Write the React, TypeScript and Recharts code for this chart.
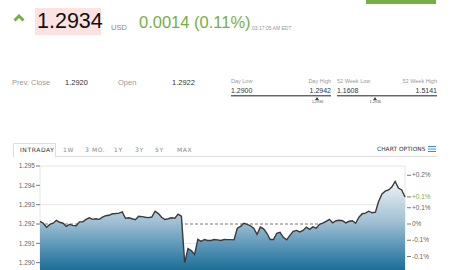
import React from 'react';
import {
  AreaChart,
  Area,
  Line,
  XAxis,
  YAxis,
  CartesianGrid,
  ReferenceLine
} from 'recharts';

// Intraday quotes, one every 5 minutes starting at 18:00
const PRICES = [
  1.29214, 1.29204, 1.29183, 1.29198, 1.29204, 1.29219, 1.29209, 1.29204, 1.29188, 1.29198,
  1.29193, 1.29191, 1.29211, 1.29211, 1.29224, 1.29232, 1.29224, 1.29227, 1.29224, 1.29235,
  1.29243, 1.29245, 1.29253, 1.29254, 1.29256, 1.29263, 1.2923, 1.29232, 1.29227, 1.29222,
  1.2924, 1.29238, 1.29235, 1.29233, 1.29236, 1.29266, 1.29254, 1.29235, 1.29223, 1.29227,
  1.29232, 1.2923, 1.29251, 1.2924, 1.29, 1.29073, 1.29063, 1.29042, 1.2912, 1.2911,
  1.2912, 1.29115, 1.29115, 1.2912, 1.29118, 1.29115, 1.2912, 1.29119, 1.29119, 1.29118,
  1.29178, 1.29188, 1.29204, 1.29198, 1.29191, 1.29178, 1.29146, 1.29184, 1.29175, 1.29152,
  1.2912, 1.2912, 1.29152, 1.29157, 1.29131, 1.29118, 1.29141, 1.29162, 1.29167, 1.29159,
  1.29167, 1.29184, 1.29172, 1.29185, 1.29178, 1.29198, 1.29204, 1.29214, 1.29224, 1.29206,
  1.29217, 1.29219, 1.29217, 1.29206, 1.29214, 1.29217, 1.29204, 1.29235, 1.29253, 1.29256,
  1.29266, 1.29258, 1.29261, 1.29318, 1.29355, 1.2937, 1.29376, 1.29391, 1.2942, 1.29386,
  1.29376, 1.2934
];
const STEP_MINUTES = 5;
const SESSION_MINUTES = 555;
const HOUR_MARKS = [60, 120, 180, 240, 300, 360, 420, 480, 540];
const PRICE_TICKS = [1.29, 1.291, 1.292, 1.293, 1.294, 1.295];
// percent-change ticks; the 0.13% step is taken by the last-price label
const PCT_TICKS = [0.195, 0.065, 0, -0.065, -0.13];

const PREV_CLOSE = 1.292;
const OPEN = 1.2922;
const DAY_LOW = 1.29;
const DAY_HIGH = 1.2942;
const WEEK52_LOW = 1.1608;
const WEEK52_HIGH = 1.5141;
const LAST = 1.2934;
const CHANGE = 0.0014;
const CHANGE_PCT = 0.11;

const GREEN = '#76b043';
const FONT = '"Liberation Sans", Arial, sans-serif';
const TAB_FONT = '"DejaVu Sans", sans-serif';

const chartData = PRICES.map((price, i) => ({ t: i * STEP_MINUTES, price }));

const pctToPrice = (p: number) => PREV_CLOSE * (1 + p / 100);
const rightTicks = [...PCT_TICKS.map(pctToPrice), LAST].sort((a, b) => b - a);

const formatPct = (price: number) => {
  const p = Math.round((price / PREV_CLOSE - 1) * 100 * 10) / 10;
  if (Math.abs(p) < 0.05) return '0%';
  return (p > 0 ? '+' : '-') + Math.abs(p).toFixed(1) + '%';
};

const RightTick = (props: any) => {
  const { x, y, payload } = props;
  const current = Math.abs(payload.value - LAST) < 1e-7;
  return (
    <g>
      <line x1={x - 6} y1={y} x2={x - 2} y2={y} stroke="#777" strokeWidth={1} />
      <text x={x - 1} y={y} dy={2.2} fontSize={6.5} fontFamily={FONT} fill={current ? GREEN : '#666'}>
        {formatPct(payload.value)}
      </text>
    </g>
  );
};

const txt = (
  left: number,
  top: number,
  size: number,
  color: string,
  extra: React.CSSProperties = {}
): React.CSSProperties => ({
  position: 'absolute',
  left,
  top,
  fontSize: size,
  color,
  lineHeight: 1,
  whiteSpace: 'nowrap',
  ...extra
});

function RangeBar({ left, width, lowLabel, highLabel, low, high, marker }: any) {
  const pos = ((marker - low) / (high - low)) * width;
  return (
    <>
      <div style={txt(left, 79, 5.5, '#999')}>{lowLabel}</div>
      <div style={txt(left, 79, 5.5, '#999', { width, textAlign: 'right' })}>{highLabel}</div>
      <div style={txt(left, 87, 7, '#333')}>{low.toFixed(4)}</div>
      <div style={txt(left, 87, 7, '#333', { width, textAlign: 'right' })}>{high.toFixed(4)}</div>
      <div style={{ position: 'absolute', left, top: 95, width, height: 1, background: '#666' }} />
      <div style={{ position: 'absolute', left, top: 96, width, height: 1, background: '#bbb' }} />
      <svg style={{ position: 'absolute', left: left + pos - 2, top: 97 }} width={4} height={3}>
        <polygon points="2,0 4,3 0,3" fill="#444" />
      </svg>
      <div style={txt(left + pos - 5, 101, 3.8, '#555', { width: 10, textAlign: 'center' })}>
        {marker.toFixed(4)}
      </div>
    </>
  );
}

const TABS = [
  { label: '1W', x: 63 },
  { label: '3 MO.', x: 85 },
  { label: '1Y', x: 114 },
  { label: '3Y', x: 135 },
  { label: '5Y', x: 155 },
  { label: 'MAX', x: 177 }
];

export default function App() {
  return (
    <div
      style={{
        position: 'absolute',
        left: 0,
        top: 0,
        width: 450,
        height: 270,
        overflow: 'hidden',
        background: '#fff',
        fontFamily: FONT
      }}
    >
      {/* quote header */}
      <div style={{ position: 'absolute', left: 366, top: 0, width: 70, height: 4, background: GREEN }} />
      <svg style={{ position: 'absolute', left: 13, top: 13 }} width={12} height={9}>
        <polyline points="1.5,7.5 6,3 10.5,7.5" fill="none" stroke={GREEN} strokeWidth={3} />
      </svg>
      <div style={{ position: 'absolute', left: 35, top: 8, width: 66, height: 27, background: '#fde2e2' }} />
      <div style={txt(37, 11, 21.5, '#111')}>{LAST.toFixed(4)}</div>
      <div style={txt(111, 24, 7.5, '#888')}>USD</div>
      <div style={txt(139, 14, 16.5, GREEN)}>
        {CHANGE.toFixed(4)} ({CHANGE_PCT.toFixed(2)}%)
      </div>
      <div style={txt(252, 25.5, 5, '#999')}>03:17:05 AM EDT</div>

      {/* key stats */}
      <div style={txt(12, 79, 7.5, '#999')}>Prev. Close</div>
      <div style={txt(65, 79, 7.5, '#333')}>{PREV_CLOSE.toFixed(4)}</div>
      <div style={txt(118, 79, 7.5, '#999')}>Open</div>
      <div style={txt(172, 79, 7.5, '#333')}>{OPEN.toFixed(4)}</div>
      <RangeBar left={231} width={100} lowLabel="Day Low" highLabel="Day High" low={DAY_LOW} high={DAY_HIGH} marker={1.2936} />
      <RangeBar left={337} width={100} lowLabel="52 Week Low" highLabel="52 Week High" low={WEEK52_LOW} high={WEEK52_HIGH} marker={1.2936} />

      {/* range tabs */}
      <div style={{ position: 'absolute', left: 13, top: 143, width: 43, height: 14, border: '1px solid #ddd', borderBottom: 'none', boxSizing: 'border-box' }} />
      <div style={{ position: 'absolute', left: 56, top: 156, width: 381, height: 1, background: '#ddd' }} />
      <div style={txt(20, 146.5, 6, '#333', { fontFamily: TAB_FONT, letterSpacing: 0.6 })}>INTRADAY</div>
      {TABS.map((tab) => (
        <div key={tab.label} style={txt(tab.x, 146.5, 6, '#888', { fontFamily: TAB_FONT, letterSpacing: 0.6 })}>
          {tab.label}
        </div>
      ))}
      <div style={txt(377, 146.5, 5.8, '#333', { fontFamily: TAB_FONT, letterSpacing: 0.1 })}>CHART OPTIONS</div>
      <svg style={{ position: 'absolute', left: 428, top: 146 }} width={8} height={6}>
        <g stroke="#3d8fd0" strokeWidth={1}>
          <line x1={0} y1={0.5} x2={8} y2={0.5} />
          <line x1={0} y1={3} x2={8} y2={3} />
          <line x1={0} y1={5.5} x2={8} y2={5.5} />
        </g>
      </svg>

      {/* intraday chart */}
      <div style={{ position: 'absolute', left: 0, top: 160 }}>
        <AreaChart width={450} height={122} data={chartData} margin={{ top: 6, right: 0, bottom: 0, left: 0 }}>
          <defs>
            <linearGradient id="priceFill" x1="0" y1="0" x2="0" y2="1">
              <stop offset="0%" stopColor="#eef3f6" />
              <stop offset="40%" stopColor="#a0c0d3" />
              <stop offset="70%" stopColor="#4a8cb0" />
              <stop offset="100%" stopColor="#005a88" />
            </linearGradient>
          </defs>
          <CartesianGrid stroke="#e6e6e6" yAxisId="left" />
          <XAxis
            dataKey="t"
            type="number"
            domain={[0, SESSION_MINUTES]}
            ticks={HOUR_MARKS}
            tick={false}
            tickLine={false}
            axisLine={false}
            height={0}
          />
          <YAxis
            yAxisId="left"
            domain={[1.289, 1.295]}
            ticks={PRICE_TICKS}
            width={40}
            axisLine={false}
            tickSize={4}
            tickMargin={1}
            tickLine={{ stroke: '#777' }}
            tickFormatter={(v: number) => v.toFixed(3)}
            tick={{ fontSize: 6.5, fill: '#666', fontFamily: FONT }}
          />
          <YAxis
            yAxisId="right"
            orientation="right"
            domain={[1.289, 1.295]}
            ticks={rightTicks}
            interval={0}
            width={45}
            axisLine={false}
            tickLine={false}
            tickSize={6}
            tick={<RightTick />}
          />
          <ReferenceLine yAxisId="left" y={PREV_CLOSE} stroke="#777" strokeDasharray="3 2" zIndex={50} />
          <Area
            yAxisId="left"
            type="linear"
            dataKey="price"
            stroke="#3a3a3a"
            strokeWidth={1.4}
            fill="url(#priceFill)"
            fillOpacity={1}
            isAnimationActive={false}
          />
          {/* keeps the percent axis bound to the price series */}
          <Line
            yAxisId="right"
            type="linear"
            dataKey="price"
            stroke="none"
            dot={false}
            activeDot={false}
            legendType="none"
            isAnimationActive={false}
          />
        </AreaChart>
      </div>
    </div>
  );
}
